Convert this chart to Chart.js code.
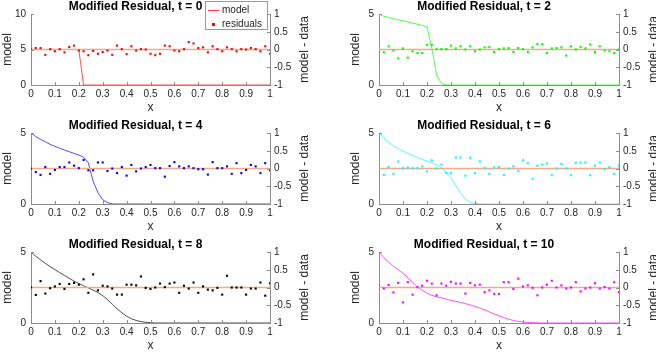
<!DOCTYPE html>
<html>
<head>
<meta charset="utf-8">
<script src="https://cdn.jsdelivr.net/npm/chart.js@4"></script>
<style>
  body { margin: 0; background: #fff; }
  #wrap { position: relative; width: 656px; height: 352px; overflow: hidden; }
  canvas { position: absolute; }
</style>
</head>
<body>
<div id="wrap"></div>
<script>
// sample positions (x)
var xGrid = [0, 0.02, 0.04, 0.06, 0.08, 0.1, 0.12, 0.14, 0.16, 0.18, 0.2, 0.22, 0.24, 0.26, 0.28, 0.3, 0.32, 0.34, 0.36, 0.38, 0.4,
  0.42, 0.44, 0.46, 0.48, 0.5, 0.52, 0.54, 0.56, 0.58, 0.6, 0.62, 0.64, 0.66, 0.68, 0.7, 0.72, 0.74, 0.76, 0.78, 0.8,
  0.82, 0.84, 0.86, 0.88, 0.9, 0.92, 0.94, 0.96, 0.98, 1];

var times = [0, 2, 4, 6, 8, 10];
var colors = ['#ff0000', '#00ff00', '#0000ff', '#00ffff', '#000000', '#ff00ff'];
var leftMax = [10, 5, 5, 5, 5, 5];

// model curves, one per t
var model0 = [5, 5, 5, 5, 5, 5, 5, 5, 5, 5, 5, 0, 0, 0, 0, 0, 0, 0, 0, 0, 0,
  0, 0, 0, 0, 0, 0, 0, 0, 0, 0, 0, 0, 0, 0, 0, 0, 0, 0, 0, 0, 0, 0, 0, 0, 0, 0, 0, 0, 0, 0];
var model2 = [5, 4.84, 4.76, 4.68, 4.6, 4.52, 4.44, 4.36, 4.28, 4.2, 4.1, 2.6, 0.7, 0.12, 0.01, 0, 0, 0, 0, 0, 0,
  0, 0, 0, 0, 0, 0, 0, 0, 0, 0, 0, 0, 0, 0, 0, 0, 0, 0, 0, 0, 0, 0, 0, 0, 0, 0, 0, 0, 0, 0];
var model4 = [5, 4.75, 4.55, 4.38, 4.2, 4.06, 3.93, 3.8, 3.68, 3.56, 3.45, 3.3, 2.9, 1.6, 0.8, 0.3, 0.1, 0.01, 0, 0, 0,
  0, 0, 0, 0, 0, 0, 0, 0, 0, 0, 0, 0, 0, 0, 0, 0, 0, 0, 0, 0, 0, 0, 0, 0, 0, 0, 0, 0, 0, 0];
var model6 = [5, 4.65, 4.35, 4.1, 3.9, 3.72, 3.56, 3.42, 3.28, 3.15, 3.03, 2.9, 2.75, 2.55, 2.25, 1.85, 1.3, 0.75, 0.35, 0.13, 0.04,
  0.01, 0, 0, 0, 0, 0, 0, 0, 0, 0, 0, 0, 0, 0, 0, 0, 0, 0, 0, 0, 0, 0, 0, 0, 0, 0, 0, 0, 0, 0];
var model8 = [5, 4.7, 4.45, 4.2, 3.97, 3.76, 3.55, 3.35, 3.15, 2.95, 2.78, 2.62, 2.47, 2.32, 2.15, 1.93, 1.65, 1.33, 1.0, 0.72, 0.48,
  0.3, 0.18, 0.1, 0.05, 0.02, 0, 0, 0, 0, 0, 0, 0, 0, 0, 0, 0, 0, 0, 0, 0, 0, 0, 0, 0, 0, 0, 0, 0, 0, 0];
var model10 = [5, 4.6, 4.3, 4.0, 3.75, 3.5, 3.2, 2.85, 2.55, 2.3, 2.1, 1.95, 1.85, 1.77, 1.68, 1.6, 1.52, 1.45, 1.37, 1.27, 1.17,
  1.05, 0.92, 0.78, 0.63, 0.5, 0.38, 0.27, 0.18, 0.11, 0.07, 0.04, 0.02, 0.01, 0, 0, 0, 0, 0, 0, 0, 0, 0, 0, 0, 0, 0, 0, 0, 0, 0];

// residuals (model - data), one per t
var resid0 = [0, 0.04, 0.04, -0.15, 0.01, -0.05, 0.01, -0.08, 0.07, 0.11, -0.03, -0.05, -0.16, -0.04, -0.12, -0.07, -0.03, -0.15, 0.11, 0.01, -0.13,
  0.09, -0.03, 0.01, 0, -0.12, -0.16, -0.12, 0.11, 0.09, -0.03, -0.05, 0.01, 0.21, 0.17, 0.04, 0.06, -0.08, 0.09, 0.01, -0.05,
  0.06, 0.01, -0.05, 0.01, 0, 0.04, 0.01, -0.05, 0.09, -0.12];
var resid2 = [0.11, -0.08, 0.09, -0.03, -0.25, 0.03, -0.23, -0.05, -0.1, -0.1, 0.13, 0.13, 0.01, 0.01, 0.01, 0.11, 0.03, 0.09, 0, 0.09, -0.05,
  0, 0.06, 0.07, -0.07, 0.01, 0.03, 0.04, -0.07, 0.04, 0.01, -0.07, 0.06, 0.15, 0.15, -0.1, 0.03, 0.04, 0.06, -0.17, 0.09,
  0, 0.07, 0.03, 0.14, -0.07, 0.09, -0.03, -0.05, -0.1, 0];
var resid4 = [0, -0.1, -0.18, 0.04, -0.15, -0.04, 0.04, 0.04, 0.17, 0.08, 0.01, 0.24, -0.05, -0.05, 0.17, 0.17, -0.07, 0, -0.13, 0.04, -0.2,
  0.1, -0.08, 0, 0.04, 0.1, 0.01, 0.01, -0.23, 0.07, 0.18, 0.06, 0.01, 0.06, 0.01, -0.02, -0.02, -0.17, 0.18, 0.01, 0.01,
  0.06, -0.15, 0.15, -0.13, -0.04, 0.1, 0.06, -0.13, 0.15, -0.05];
var resid6 = [0, -0.18, 0.04, -0.15, 0.2, 0.01, 0.03, 0.01, 0.01, 0.06, -0.08, 0.23, 0, 0.11, -0.13, -0.13, 0.31, 0.31, -0.2, 0.3, -0.13,
  0.2, 0.01, -0.15, 0.03, 0.04, -0.18, 0, 0.06, -0.06, 0.23, 0.15, -0.29, 0.08, 0.11, 0.14, -0.19, 0, 0.13, 0, -0.19,
  0.16, 0.17, 0.17, -0.19, 0.08, 0.17, -0.02, 0.04, -0.15, 0.08];
var resid8 = [0, -0.21, 0.18, -0.17, -0.02, 0.03, 0.1, -0.04, 0.1, 0.13, 0.08, 0.23, -0.15, 0.37, -0.08, 0.05, 0.03, -0.03, -0.2, -0.2, 0.08,
  0.08, 0.06, 0.31, -0.01, -0.04, 0, 0.11, 0.01, 0.11, 0.14, -0.15, 0.05, -0.03, 0.14, -0.15, 0.03, -0.06, -0.08, -0.01, -0.2,
  0.33, 0, 0, 0, -0.2, -0.03, -0.03, 0.14, -0.23, 0.12];
var resid10 = [0.06, -0.03, 0.07, -0.14, 0.13, -0.42, 0.15, -0.2, 0.01, 0.05, 0.19, 0.11, -0.22, 0.11, 0.05, 0.16, 0.11, 0.11, -0.17, 0.13, 0.06,
  0.08, -0.13, -0.08, -0.18, -0.18, 0.15, 0.15, -0.04, 0.25, 0.03, 0.06, -0.01, -0.22, 0, 0.08, 0.19, 0, 0.06, -0.03, 0,
  0.15, -0.11, -0.03, 0, 0.12, -0.03, 0.01, -0.03, 0.15, -0.13];

var xTicks = [0, 0.1, 0.2, 0.3, 0.4, 0.5, 0.6, 0.7, 0.8, 0.9, 1];

var models = [model0, model2, model4, model6, model8, model10];
var resids = [resid0, resid2, resid4, resid6, resid8, resid10];

var FONT = '"Liberation Sans", Arial, sans-serif';
var axisColor = '#8c8c8c';
var textColor = '#262626';
var zeroColor = '#f3a98c';

function fmt (v) {
  return String(+(+v).toFixed(1));
}

// extra drawing: inward ticks, titles, axis labels, legend
var panelDecor = {
  id: 'panelDecor',
  afterDraw: function (chart) {
    var ctx = chart.ctx, a = chart.chartArea, o = chart.options.plugins.panelDecor;
    var xs = chart.scales.x, yl = chart.scales.y, yr = chart.scales.y1;
    ctx.save();
    ctx.strokeStyle = axisColor;
    ctx.lineWidth = 1;
    ctx.beginPath();
    xs.ticks.forEach(function (t) {
      var px = Math.round(xs.getPixelForValue(t.value)) + 0.5;
      ctx.moveTo(px, a.bottom); ctx.lineTo(px, a.bottom - 3);
    });
    yl.ticks.forEach(function (t) {
      var py = Math.round(yl.getPixelForValue(t.value)) + 0.5;
      ctx.moveTo(a.left, py); ctx.lineTo(a.left + 3, py);
    });
    yr.ticks.forEach(function (t) {
      var py = Math.round(yr.getPixelForValue(t.value)) + 0.5;
      ctx.moveTo(a.right, py); ctx.lineTo(a.right - 3, py);
    });
    ctx.stroke();

    var cx = (a.left + a.right) / 2, cy = (a.top + a.bottom) / 2;
    ctx.fillStyle = '#000';
    ctx.textAlign = 'center';
    ctx.textBaseline = 'alphabetic';
    ctx.font = 'bold 12px ' + FONT;
    ctx.fillText(o.title, cx - 15, a.top - 4);

    ctx.textBaseline = 'middle';
    ctx.fillStyle = textColor;
    ctx.font = '12px ' + FONT;
    ctx.fillText('x', cx, a.bottom + 23);

    ctx.save();
    ctx.translate(a.left - 23, cy);
    ctx.rotate(-Math.PI / 2);
    ctx.fillText('model', 0, 0);
    ctx.restore();

    ctx.save();
    ctx.translate(a.right + 35, cy);
    ctx.rotate(-Math.PI / 2);
    ctx.fillText('model - data', 0, 0);
    ctx.restore();

    if (o.legend) {
      var c = chart.data.datasets[2].borderColor;
      ctx.fillStyle = '#fff';
      ctx.fillRect(205.5, 1.5, 62, 28);
      ctx.strokeStyle = '#999';
      ctx.strokeRect(205.5, 1.5, 62, 28);
      ctx.strokeStyle = c;
      ctx.lineWidth = 0.8;
      ctx.beginPath();
      ctx.moveTo(208, 10.5); ctx.lineTo(219, 10.5);
      ctx.stroke();
      ctx.fillStyle = c;
      ctx.fillRect(212, 23, 3, 3);
      ctx.fillStyle = textColor;
      ctx.font = '10px ' + FONT;
      ctx.textAlign = 'left';
      ctx.fillText('model', 222, 10.5);
      ctx.fillText('residuals', 222, 24.5);
    }
    ctx.restore();
  }
};

function makePanel (i) {
  var col = i % 2, row = Math.floor(i / 2);
  var canvas = document.createElement('canvas');
  canvas.width = 328;
  canvas.height = 114;
  canvas.style.left = (col * 328) + 'px';
  canvas.style.top = (row * 119) + 'px';
  document.getElementById('wrap').appendChild(canvas);

  var leftW = col === 0 ? 31 : 51;
  var rightW = col === 0 ? 58 : 37;
  var tickFont = {family: FONT, size: 10};

  new Chart(canvas, {
    type: 'scatter',
    data: {
      datasets: [
        {
          data: xGrid.map(function (x, k) { return {x: x, y: resids[i][k]}; }),
          yAxisID: 'y1',
          showLine: false,
          pointStyle: 'rect',
          pointRadius: 1.5,
          borderWidth: 0,
          backgroundColor: colors[i],
          borderColor: colors[i]
        },
        {
          data: [{x: 0, y: 0}, {x: 1, y: 0}],
          yAxisID: 'y1',
          showLine: true,
          borderColor: zeroColor,
          borderWidth: 1.5,
          pointRadius: 0
        },
        {
          data: xGrid.map(function (x, k) { return {x: x, y: models[i][k]}; }),
          yAxisID: 'y',
          showLine: true,
          borderColor: colors[i],
          borderWidth: 0.7,
          pointRadius: 0,
          tension: 0
        }
      ]
    },
    options: {
      responsive: false,
      animation: false,
      events: [],
      layout: {padding: {top: 14, left: 0, right: 0, bottom: 0}},
      plugins: {
        legend: {display: false},
        tooltip: {enabled: false},
        panelDecor: {title: 'Modified Residual, t = ' + times[i], legend: i === 0}
      },
      scales: {
        x: {
          type: 'linear', min: 0, max: 1,
          afterBuildTicks: function (s) { s.ticks = xTicks.map(function (v) { return {value: v}; }); },
          ticks: {autoSkip: false, maxRotation: 0, padding: 3, color: textColor, font: tickFont, callback: fmt},
          grid: {display: true, drawOnChartArea: false, drawTicks: false, color: axisColor},
          border: {display: true, color: axisColor},
          afterFit: function (s) { s.height = 29; }
        },
        y: {
          position: 'left', min: 0, max: leftMax[i],
          ticks: {stepSize: 5, padding: 5, color: textColor, font: tickFont, callback: fmt},
          grid: {display: true, drawOnChartArea: false, drawTicks: false, color: axisColor},
          border: {display: true, color: axisColor},
          afterFit: function (s) { s.width = leftW; }
        },
        y1: {
          position: 'right', min: -1, max: 1,
          ticks: {stepSize: 0.5, padding: 4, color: textColor, font: tickFont, callback: fmt},
          grid: {display: true, drawOnChartArea: false, drawTicks: false, color: axisColor},
          border: {display: true, color: axisColor},
          afterFit: function (s) { s.width = rightW; }
        }
      }
    },
    plugins: [panelDecor]
  });
}

for (var i = 0; i < 6; i++) {
  makePanel(i);
}
</script>
</body>
</html>
